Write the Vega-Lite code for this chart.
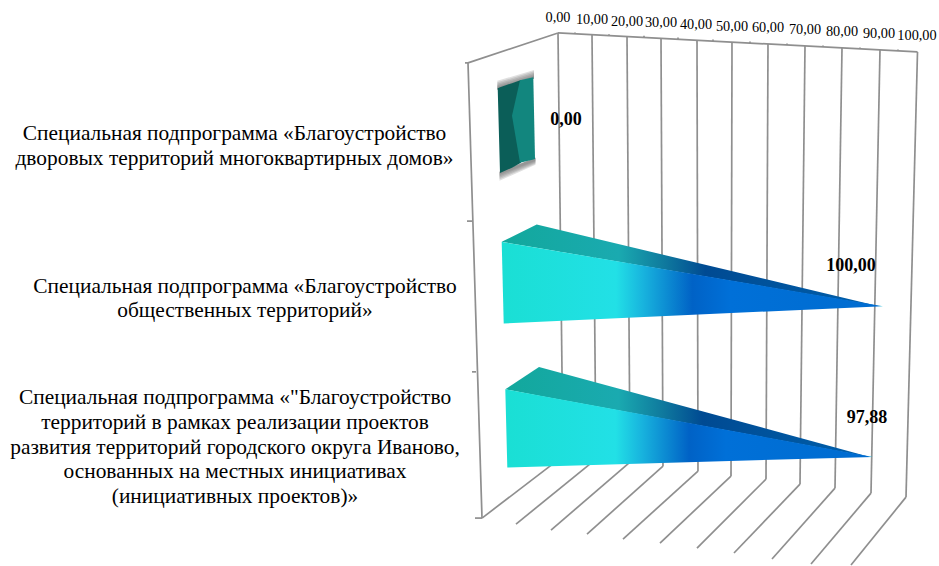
{
"$schema":"https://vega.github.io/schema/vega-lite/v6.json",
"width":939,"height":566,"padding":0,
"autosize":{"type":"fit","contains":"padding"},
"background":"white",
"config":{"view":{"stroke":null}},
"datasets":{
"grid":[
{"kind":"wall","a":468,"b":63,"a2":558,"b2":33},
{"kind":"wall","a":558,"b":33,"a2":917.5,"b2":52},
{"kind":"wall","a":468,"b":63,"a2":482,"b2":519},
{"kind":"wall","a":465,"b":63,"a2":468,"b2":63},
{"kind":"wall","a":467,"b":221.5,"a2":472,"b2":221.5},
{"kind":"wall","a":472,"b":372.5,"a2":476,"b2":372.5},
{"kind":"wall","a":475,"b":519,"a2":482,"b2":519},
{"kind":"back","a":558,"b":33,"a2":563,"b2":457},
{"kind":"back","a":592,"b":35,"a2":596,"b2":460},
{"kind":"back","a":627,"b":36.5,"a2":630,"b2":463},
{"kind":"back","a":661,"b":38,"a2":663,"b2":467},
{"kind":"back","a":697,"b":40,"a2":698,"b2":472},
{"kind":"back","a":732,"b":42,"a2":731,"b2":477},
{"kind":"back","a":768,"b":44,"a2":766,"b2":480},
{"kind":"back","a":805,"b":46,"a2":800,"b2":485},
{"kind":"back","a":842,"b":48,"a2":835,"b2":489},
{"kind":"back","a":880,"b":50,"a2":871,"b2":494},
{"kind":"back","a":917.5,"b":52,"a2":906,"b2":498},
{"kind":"floor","a":563,"b":457,"a2":482,"b2":519},
{"kind":"floor","a":596,"b":460,"a2":516,"b2":525},
{"kind":"floor","a":630,"b":463,"a2":551,"b2":531},
{"kind":"floor","a":663,"b":467,"a2":587,"b2":535},
{"kind":"floor","a":698,"b":472,"a2":623,"b2":540},
{"kind":"floor","a":731,"b":477,"a2":660,"b2":544},
{"kind":"floor","a":766,"b":480,"a2":697,"b2":549},
{"kind":"floor","a":800,"b":485,"a2":734,"b2":554},
{"kind":"floor","a":835,"b":489,"a2":772,"b2":560},
{"kind":"floor","a":871,"b":494,"a2":811,"b2":565},
{"kind":"floor","a":906,"b":498,"a2":851,"b2":566},
{"kind":"minor","a":575,"b":34,"a2":575,"b2":32.5},
{"kind":"minor","a":609,"b":35.7,"a2":609,"b2":34.2},
{"kind":"minor","a":644,"b":37.2,"a2":644,"b2":35.7},
{"kind":"minor","a":678,"b":39,"a2":678,"b2":37.5},
{"kind":"minor","a":713,"b":41,"a2":713,"b2":39.5},
{"kind":"minor","a":750,"b":43,"a2":750,"b2":41.5},
{"kind":"minor","a":787,"b":45,"a2":787,"b2":43.5},
{"kind":"minor","a":823,"b":47,"a2":823,"b2":45.5},
{"kind":"minor","a":860,"b":49,"a2":860,"b2":47.5},
{"kind":"minor","a":898,"b":51,"a2":898,"b2":49.5}
],
"shapes":[
{"part":"front2","a":501.7,"b":242.3,"b2":242.3},
{"part":"front2","a":503.7,"b":242.6,"b2":324},
{"part":"front2","a":883,"b":306.7,"b2":306.7},
{"part":"top2","a":501.7,"b":242.3,"b2":242.3},
{"part":"top2","a":536.7,"b":225,"b2":248.2},
{"part":"top2","a":879,"b":306.7,"b2":306.7},
{"part":"front3","a":505.3,"b":390,"b2":390},
{"part":"front3","a":507.3,"b":390.4,"b2":468.3},
{"part":"front3","a":873,"b":457.7,"b2":457.7},
{"part":"top3","a":505.3,"b":390,"b2":390},
{"part":"top3","a":539,"b":367.7,"b2":396.4},
{"part":"top3","a":870,"b":457.7,"b2":457.7},
{"part":"dark1","a":497.7,"b":88.3,"b2":88.3},
{"part":"dark1","a":500,"b":87.5,"b2":173.3},
{"part":"dark1","a":512,"b":83.3,"b2":168},
{"part":"dark1","a":521,"b":80.2,"b2":163},
{"part":"light1","a":512,"b":116,"b2":116},
{"part":"light1","a":520,"b":80.5,"b2":163},
{"part":"light1","a":533.3,"b":77.3,"b2":159.8},
{"part":"light1","a":535,"b":159.3,"b2":159.3},
{"part":"shadow","band":"t1","a":497.3,"b":87,"b2":90},
{"part":"shadow","band":"t1","a":534,"b":76,"b2":79},
{"part":"shadow","band":"t2","a":497.3,"b":85.5,"b2":90},
{"part":"shadow","band":"t2","a":534,"b":74.5,"b2":79},
{"part":"shadow","band":"t3","a":497.3,"b":84,"b2":90},
{"part":"shadow","band":"t3","a":534,"b":73,"b2":79},
{"part":"shadow","band":"t4","a":497.3,"b":82.5,"b2":90},
{"part":"shadow","band":"t4","a":534,"b":71.5,"b2":79},
{"part":"shadow","band":"t5","a":497.3,"b":81,"b2":90},
{"part":"shadow","band":"t5","a":534,"b":70,"b2":79},
{"part":"shadow","band":"b1","a":499.5,"b":172,"b2":175},
{"part":"shadow","band":"b1","a":535.5,"b":158,"b2":161},
{"part":"shadow","band":"b2","a":499.5,"b":172,"b2":176.5},
{"part":"shadow","band":"b2","a":535.5,"b":158,"b2":162},
{"part":"shadow","band":"b3","a":499.5,"b":172,"b2":178},
{"part":"shadow","band":"b3","a":535.5,"b":158,"b2":163},
{"part":"shadow","band":"b4","a":499.5,"b":172,"b2":179.5},
{"part":"shadow","band":"b4","a":535.5,"b":158,"b2":164},
{"part":"shadow","band":"b5","a":499.5,"b":172,"b2":181},
{"part":"shadow","band":"b5","a":535.5,"b":158,"b2":165}
],
"axisLabels":[
{"label":"0,00","a":558,"b":18},{"label":"10,00","a":592,"b":20.5},{"label":"20,00","a":627,"b":22},
{"label":"30,00","a":661,"b":23.5},{"label":"40,00","a":696,"b":25},{"label":"50,00","a":732,"b":27},
{"label":"60,00","a":768,"b":28.5},{"label":"70,00","a":805,"b":30.5},{"label":"80,00","a":842,"b":32},
{"label":"90,00","a":879,"b":34},{"label":"100,00","a":917,"b":36}
],
"values":[
{"label":"0,00","value":0,"a":566,"b":120},
{"label":"100,00","value":100,"a":851,"b":266},
{"label":"97,88","value":97.88,"a":867,"b":419}
],
"categories":[
{"line":"Специальная подпрограмма «Благоустройство","a":234.5,"b":134},
{"line":"дворовых территорий многоквартирных домов»","a":234.5,"b":159},
{"line":"Специальная подпрограмма «Благоустройство","a":245,"b":288},
{"line":"общественных территорий»","a":245,"b":312},
{"line":"Специальная подпрограмма «\"Благоустройство","a":235,"b":399},
{"line":"территорий в рамках реализации проектов","a":235,"b":424},
{"line":"развития территорий городского округа Иваново,","a":235,"b":449},
{"line":"основанных на местных инициативах","a":235,"b":473},
{"line":"(инициативных проектов)»","a":235,"b":498}
]
},
"encoding":{
"x":{"field":"a","type":"quantitative","scale":{"domain":[0,939],"nice":false,"zero":false},"axis":null},
"y":{"field":"b","type":"quantitative","scale":{"domain":[566,0],"nice":false,"zero":false},"axis":null}
},
"layer":[
{"data":{"name":"grid"},"mark":{"type":"rule","color":"#8f8f8f","strokeWidth":1.7},
 "encoding":{"x2":{"field":"a2"},"y2":{"field":"b2"}}},
{"data":{"name":"shapes"},"transform":[{"filter":"datum.part=='shadow'"}],
 "mark":{"type":"area","color":"#666666","opacity":0.2},
 "encoding":{"y2":{"field":"b2"},"detail":{"field":"band"}}},
{"data":{"name":"shapes"},"transform":[{"filter":"datum.part=='dark1'"}],
 "mark":{"type":"area","color":"#0B5E58"},"encoding":{"y2":{"field":"b2"}}},
{"data":{"name":"shapes"},"transform":[{"filter":"datum.part=='light1'"}],
 "mark":{"type":"area","color":"#12867E"},"encoding":{"y2":{"field":"b2"}}},
{"data":{"name":"shapes"},"transform":[{"filter":"datum.part=='top2'||datum.part=='top3'"}],
 "mark":{"type":"area","color":{"gradient":"linear","x1":0,"y1":0,"x2":1,"y2":0,"stops":[
  {"offset":0,"color":"#12A89C"},{"offset":0.31,"color":"#1AAAB0"},{"offset":0.43,"color":"#0F7A9E"},{"offset":0.54,"color":"#004A92"},{"offset":1,"color":"#0060AC"}]}},
 "encoding":{"y2":{"field":"b2"},"detail":{"field":"part"}}},
{"data":{"name":"shapes"},"transform":[{"filter":"datum.part=='front2'||datum.part=='front3'"}],
 "mark":{"type":"area","color":{"gradient":"linear","x1":0,"y1":0,"x2":1,"y2":0,"stops":[
  {"offset":0,"color":"#1ADFD4"},{"offset":0.3,"color":"#22E0E6"},{"offset":0.37,"color":"#18B4DE"},{"offset":0.5,"color":"#0062C6"},{"offset":0.6,"color":"#0070D8"},{"offset":0.985,"color":"#006CD0"},{"offset":1,"color":"#20D8D8"}]}},
 "encoding":{"y2":{"field":"b2"},"detail":{"field":"part"}}},
{"data":{"name":"axisLabels"},"mark":{"type":"text","font":"Liberation Serif","fontSize":14.3,"color":"#000000","align":"center","baseline":"middle"},
 "encoding":{"text":{"field":"label"}}},
{"data":{"name":"values"},"mark":{"type":"text","font":"Liberation Serif","fontSize":18,"fontWeight":"bold","color":"#000000","align":"center","baseline":"middle"},
 "encoding":{"text":{"field":"label"}}},
{"data":{"name":"categories"},"mark":{"type":"text","font":"Liberation Serif","fontSize":21.4,"color":"#000000","align":"center","baseline":"middle"},
 "encoding":{"text":{"field":"line"}}}
]
}
